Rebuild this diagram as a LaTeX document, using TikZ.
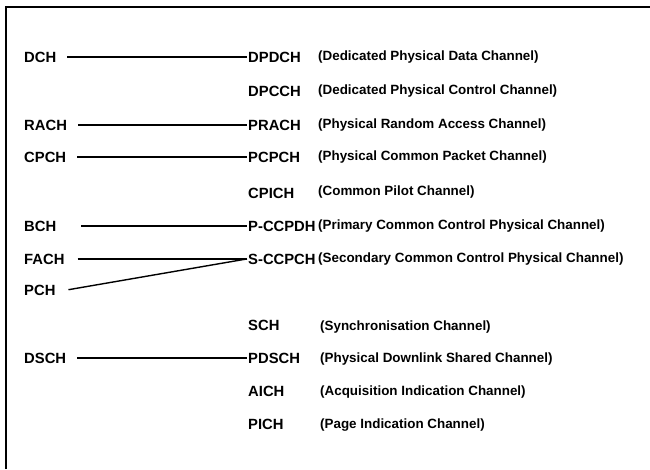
\documentclass[tikz,border=0pt]{standalone}
\usepackage{fontspec}
\setmainfont{Liberation Sans}
\usetikzlibrary{shapes,arrows}
\begin{document}
\begin{tikzpicture}[x=1pt, y=-1pt, auto]
	\tikzstyle{trch} = [anchor=base west, inner xsep=0pt,
	font=\fontsize{14.8}{17}\selectfont\bfseries]
	\tikzstyle{phch} = [anchor=base west, inner xsep=1pt,
	font=\fontsize{14.8}{17}\selectfont\bfseries]
	\tikzstyle{desc} = [anchor=base west, inner xsep=0pt,
	font=\fontsize{13.4}{15}\selectfont\bfseries]
	\tikzstyle{line} = [draw, line width=1.4pt, shorten <=11pt]
	\useasboundingbox (0,0) rectangle (650,469);
	% Frame
	\draw [line width=2pt] (6,469) -- (6,7) -- (650,7);
	% Place nodes
	\node [trch] (dch) at (24,62) {DCH};
	\node [trch] (rach) at (24,130) {RACH};
	\node [trch] (cpch) at (24,162) {CPCH};
	\node [trch] (bch) at (24,231) {BCH};
	\node [trch] (fach) at (24,264) {FACH};
	\node [trch] (pch) at (24,295) {PCH};
	\node [trch] (dsch) at (24,363) {DSCH};
	\node [phch] (dpdch) at (247,62) {DPDCH};
	\node [phch] (dpcch) at (247,96) {DPCCH};
	\node [phch] (prach) at (247,130) {PRACH};
	\node [phch] (pcpch) at (247,162) {PCPCH};
	\node [phch] (cpich) at (247,198) {CPICH};
	\node [phch] (pccpch) at (247,231) {P-CCPDH};
	\node [phch] (sccpch) at (247,264) {S-CCPCH};
	\node [phch] (sch) at (247,330) {SCH};
	\node [phch] (pdsch) at (247,363) {PDSCH};
	\node [phch] (aich) at (247,396) {AICH};
	\node [phch] (pich) at (247,429) {PICH};
	\node [desc] (dpdchd) at (318,60) {(Dedicated Physical Data Channel)};
	\node [desc] (dpcchd) at (318,94) {(Dedicated Physical Control Channel)};
	\node [desc] (prachd) at (318,128) {(Physical Random Access Channel)};
	\node [desc] (pcpchd) at (318,160) {(Physical Common Packet Channel)};
	\node [desc] (cpichd) at (318,195) {(Common Pilot Channel)};
	\node [desc] (pccpchd) at (318,229) {(Primary Common Control Physical Channel)};
	\node [desc] (sccpchd) at (318,262) {(Secondary Common Control Physical Channel)};
	\node [desc] (schd) at (320,330) {(Synchronisation Channel)};
	\node [desc] (pdschd) at (320,362) {(Physical Downlink Shared Channel)};
	\node [desc] (aichd) at (320,395) {(Acquisition Indication Channel)};
	\node [desc] (pichd) at (320,428) {(Page Indication Channel)};
	% Draw edges
	\path [line] (dch) -- (dpdch);
	\path [line] (rach) -- (prach);
	\path [line] (cpch) -- (pcpch);
	\path [line, shorten <=25pt] (bch) -- (pccpch);
	\path [line, shorten <=13pt] (fach) -- (sccpch.west);
	\path [line, shorten <=13pt] (pch.east) ++(0,2) -- (sccpch.west);
	\path [line] (dsch) -- (pdsch);
\end{tikzpicture}
\end{document}
